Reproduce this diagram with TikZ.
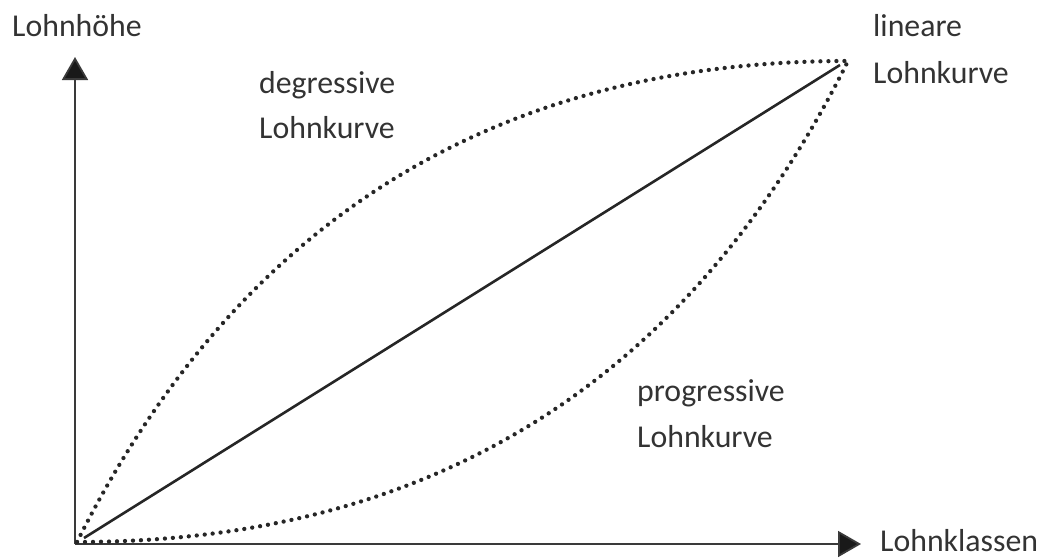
\documentclass[tikz,border=0pt]{standalone}
\usepackage{fontspec}
\setmainfont{Carlito}
\usetikzlibrary{arrows.meta}
\definecolor{txt}{HTML}{333333}
\definecolor{axis}{HTML}{3A3A3A}
\begin{document}
\begin{tikzpicture}[x=1pt,y=-1pt,
  lbl/.style={anchor=base west,inner sep=0pt,text=txt,font=\fontsize{31.8}{47}\selectfont},
  axisline/.style={draw=axis,line width=1.8pt},
  dotcurve/.style={draw=black!85,line width=4.3pt,line cap=round,dash pattern=on 0pt off 8pt},
  linline/.style={draw=black!85,line width=2.6pt}]
\useasboundingbox (0,0) rectangle (1043,558);
\coordinate (O) at (75,544);
\coordinate (Ytip) at (75,57);
\coordinate (Xtip) at (861,544);
\coordinate (S) at (77,542);
\coordinate (E) at (848,61);
\coordinate (LS) at (84,538);
\coordinate (LE) at (840,65);
% axes
\draw[axisline,-{Triangle[length=23pt,width=26pt,fill=black!90]}] (O) -- (Ytip);
\draw[axisline,-{Triangle[length=23pt,width=26pt,fill=black!90]}] (O) -- (Xtip);
% curves
\draw[dotcurve] (S) .. controls (237,222) and (494,61) .. (E);
\draw[dotcurve] (S) .. controls (431,542) and (688,382) .. (E);
\draw[linline] (LS) -- (LE);
% labels
\node[lbl] (yl) at (12,36) {Lohnhöhe};
\node[lbl] (xl) at (880,551) {Lohnklassen};
\node[lbl] (lin1) at (873,36) {lineare};
\node[lbl] (lin2) at (873,83) {Lohnkurve};
\node[lbl] (deg1) at (259,93) {degressive};
\node[lbl] (deg2) at (259,138) {Lohnkurve};
\node[lbl] (pro1) at (637,401) {progressive};
\node[lbl] (pro2) at (637,447) {Lohnkurve};
\end{tikzpicture}
\end{document}
